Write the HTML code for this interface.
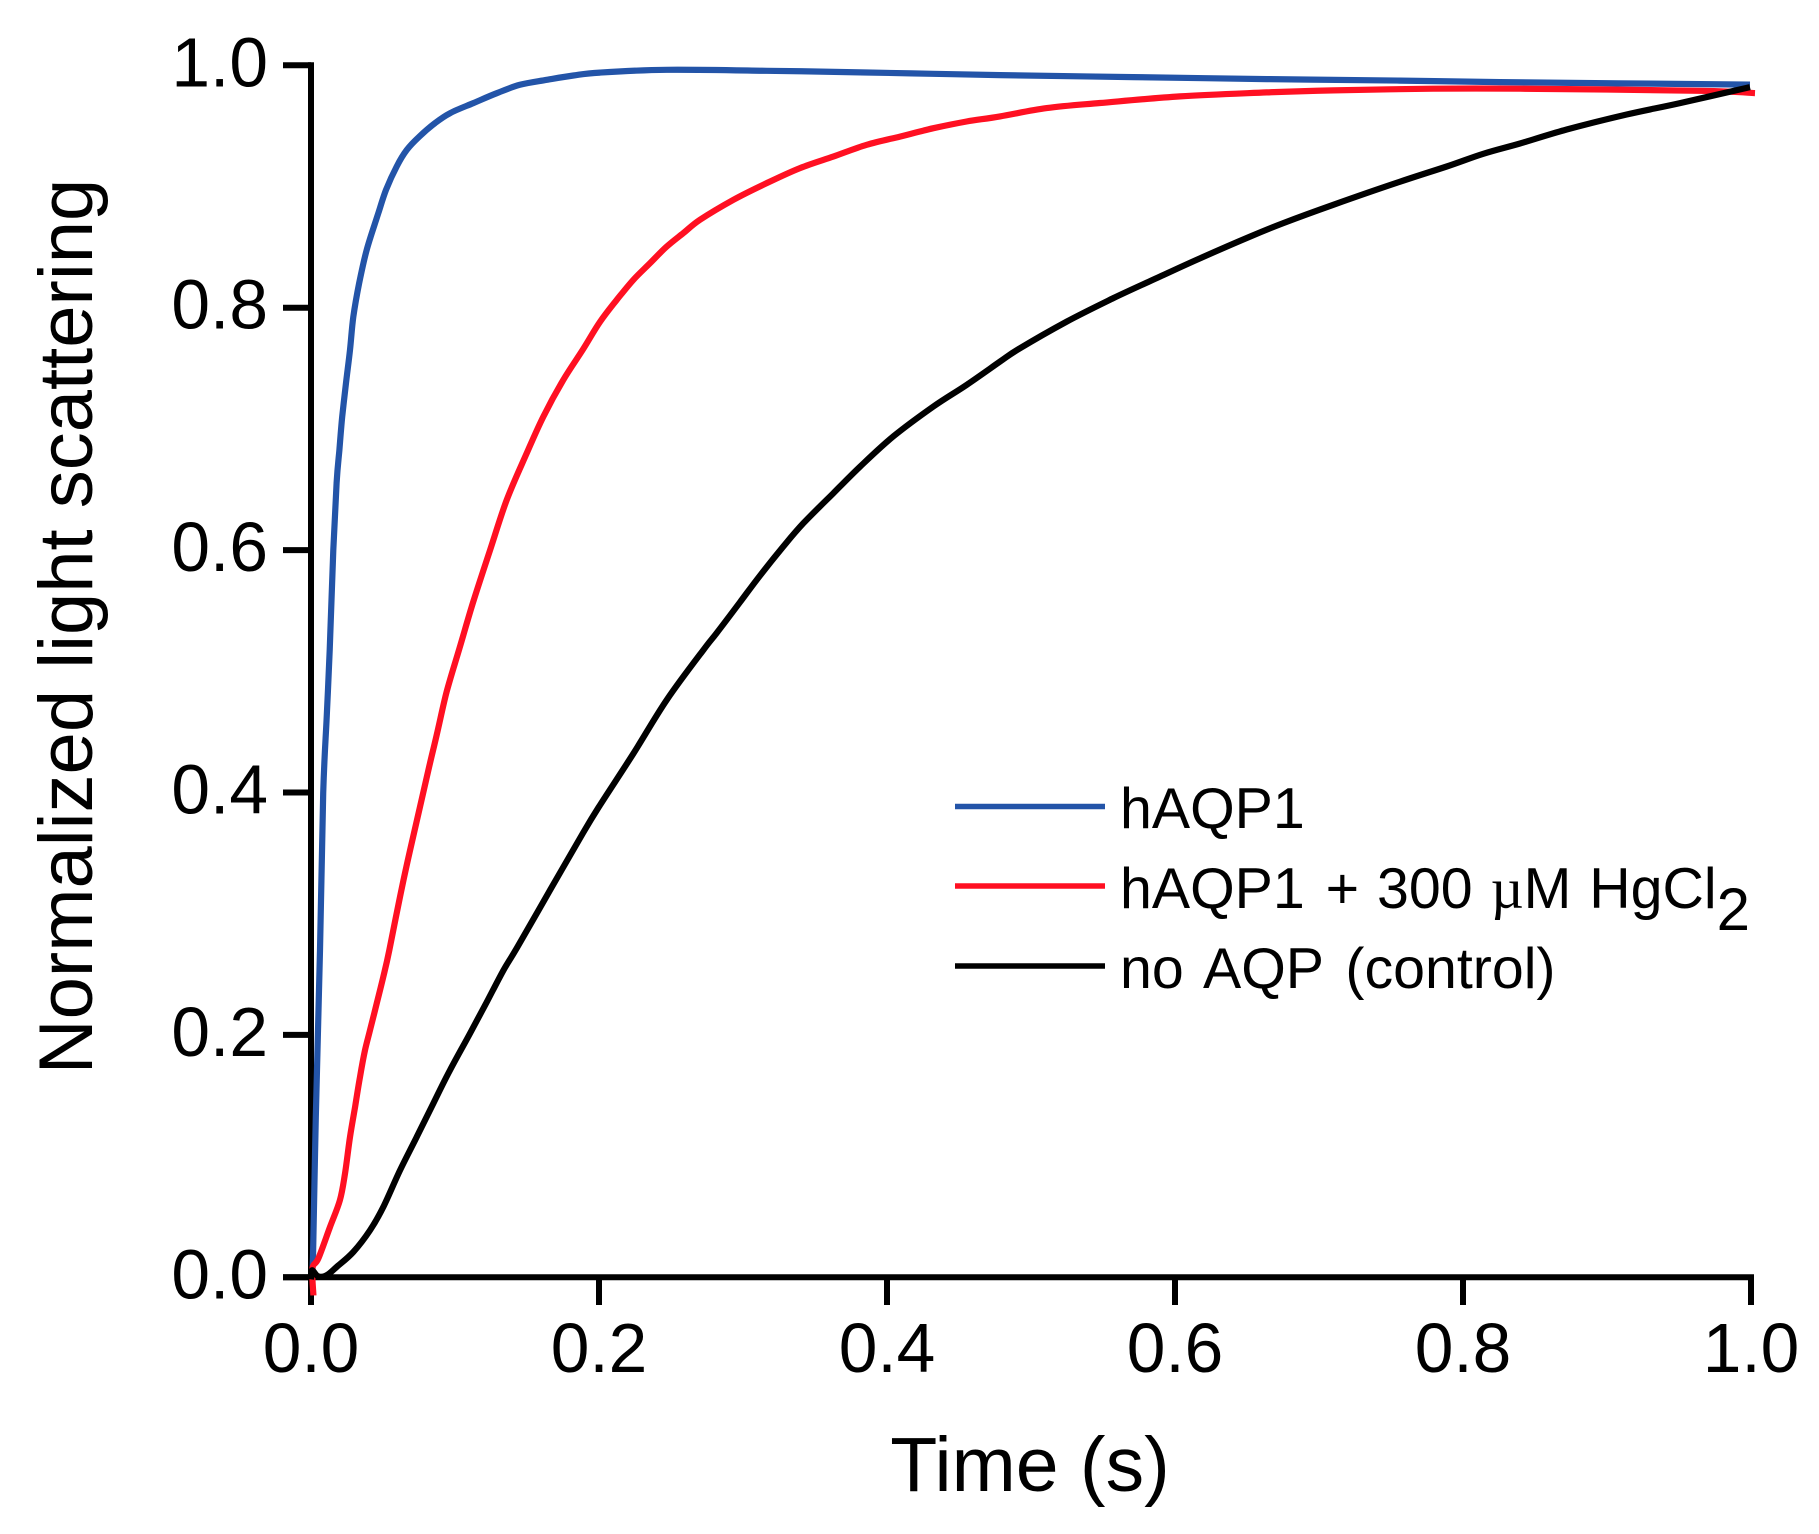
<!DOCTYPE html>
<html lang="en">
<head>
<meta charset="utf-8">
<title>Normalized light scattering over time</title>
<style>
  html, body { margin: 0; padding: 0; background: #ffffff; }
  svg { display: block; font-family: "Liberation Sans", Arial, sans-serif; fill: #000; }
</style>
</head>
<body>
<svg id="chart" width="1819" height="1534" viewBox="0 0 1819 1534" xmlns="http://www.w3.org/2000/svg">
  <rect x="0" y="0" width="1819" height="1534" fill="#ffffff"/>
  <g id="axes"></g>
  <g id="series"></g>
  <text x="1030" y="1491" font-size="77" text-anchor="middle">Time (s)</text>
  <text transform="translate(92 626.5) rotate(-90)" font-size="76" text-anchor="middle">Normalized light scattering</text>
  <g>
    <line x1="955" x2="1105" y1="806.5" y2="806.5" stroke="#2354a8" stroke-width="5.5"/>
    <text x="1120" y="828" font-size="57.3">hAQP1</text>
    <line x1="955" x2="1105" y1="886" y2="886" stroke="#ff1022" stroke-width="5.5"/>
    <text x="1120" y="908" font-size="57.3" word-spacing="2">hAQP1 <tspan dx="3">+</tspan> 300 <tspan font-family="'Liberation Serif', serif">µ</tspan>M HgCl<tspan dy="22" font-size="60">2</tspan></text>
    <line x1="955" x2="1105" y1="966" y2="966" stroke="#000000" stroke-width="5.5"/>
    <text x="1120" y="988" font-size="57.3" word-spacing="6.5">no AQP (control)</text>
  </g>
</svg>
<script>
const xTicks = [0, 0.2, 0.4, 0.6, 0.8, 1.0];
const yTicks = [0, 0.2, 0.4, 0.6, 0.8, 1.0];
const xTickLabels = ["0.0", "0.2", "0.4", "0.6", "0.8", "1.0"];
const yTickLabels = ["0.0", "0.2", "0.4", "0.6", "0.8", "1.0"];

const haqp1Time = [0,.0014,.0033,.00625,.0085,.0109,.0130,.0155,.0178,.0197,.0217,.0243,.0271,.0294,.0335,.0387,.0460,.0521,.0595,.0665,.0752,.0861,.0965,.1127,.1290,.1451,.1637,.1822,.2007,.2470,.3165,.3859,.4319,.4785,.5708,.6639,.7563,.8257,.9993];
const haqp1Signal = [0,.0165,.132,.270,.3995,.4622,.5175,.6001,.6554,.6826,.7101,.7379,.7652,.7924,.8205,.8477,.8752,.8972,.9165,.9302,.9412,.9523,.9605,.9688,.9770,.9839,.9880,.9916,.9940,.9963,.9955,.9941,.9930,.9919,.9903,.9886,.9874,.9861,.9841];

const hgTime = [.0017,.0010,.0051,.0132,.0201,.0236,.0271,.0306,.0340,.0375,.0410,.0456,.0502,.0544,.0618,.0688,.0757,.0815,.0873,.0942,.1035,.1127,.1243,.1359,.1498,.1613,.1752,.1891,.2007,.2123,.2238,.2354,.2470,.2585,.2701,.2933,.3165,.3396,.3627,.3859,.4090,.4322,.4553,.4785,.5109,.5479,.6035,.6637,.7099,.7792,.8396,.9646,1.0028];
const hgSignal = [-.0149,.0074,.0154,.0415,.0636,.0856,.1158,.1406,.1653,.1874,.2039,.2259,.2479,.2699,.3139,.3525,.3882,.4185,.4475,.4830,.5205,.5575,.5998,.6413,.6799,.7101,.7404,.7660,.7883,.8064,.8229,.8367,.8504,.8615,.8725,.8890,.9028,.9152,.9247,.9344,.9412,.9481,.9536,.9578,.9647,.9689,.9743,.9776,.9793,.9807,.9807,.9790,.9771];

const controlTime = [0,.0007,.0049,.0109,.0178,.0294,.0410,.0502,.0618,.0734,.0849,.0965,.1104,.1220,.1335,.1431,.1660,.1891,.2007,.2238,.2470,.2724,.2817,.2979,.3118,.3280,.3419,.3627,.3813,.4044,.4322,.4553,.4785,.4924,.5248,.5571,.5896,.6174,.6521,.6752,.7099,.7563,.7887,.8141,.8396,.8720,.9137,.9507,.9993];
const controlSignal = [-.0017,.0058,.0008,.0017,.0085,.0209,.0388,.0580,.0883,.1158,.1434,.1709,.2012,.2270,.2530,.2720,.3194,.3670,.3896,.4320,.4763,.5175,.5315,.5570,.5790,.6030,.6221,.6469,.6689,.6938,.7185,.7363,.7555,.7666,.7885,.8078,.8257,.8408,.8587,.8698,.8849,.9040,.9165,.9270,.9355,.9470,.9594,.9688,.9820];

const SVG_NS = "http://www.w3.org/2000/svg";
const xScale = t => 311 + 1440 * t;
const yScale = v => 1277.3 - 1212 * v;
const axesGroup = document.getElementById("axes");
const seriesGroup = document.getElementById("series");
const AXIS_WIDTH = 6;

function makeLine(x1, y1, x2, y2) {
  const el = document.createElementNS(SVG_NS, "line");
  el.setAttribute("x1", x1);
  el.setAttribute("y1", y1);
  el.setAttribute("x2", x2);
  el.setAttribute("y2", y2);
  el.setAttribute("stroke", "#000");
  el.setAttribute("stroke-width", AXIS_WIDTH);
  return el;
}
function makeLabel(x, y, str, anchor) {
  const el = document.createElementNS(SVG_NS, "text");
  el.setAttribute("x", x);
  el.setAttribute("y", y);
  el.setAttribute("font-size", "69.5");
  el.setAttribute("text-anchor", anchor);
  el.textContent = str;
  return el;
}

const yAxisLine = makeLine(xScale(0), yScale(1) - AXIS_WIDTH / 2, xScale(0), 1305);


axesGroup.appendChild(yAxisLine);

const xAxisLine = makeLine(283, yScale(0), xScale(1) + AXIS_WIDTH / 2, yScale(0));


axesGroup.appendChild(xAxisLine);

yTicks.forEach((v, i) => {
  const tick = makeLine(283, yScale(v), xScale(0), yScale(v));
  
  
  axesGroup.appendChild(tick);
  const label = makeLabel(268, yScale(v) + 21, yTickLabels[i], "end");
  
  
  axesGroup.appendChild(label);
});

xTicks.forEach((t, i) => {
  const tick = makeLine(xScale(t), yScale(0), xScale(t), 1305);
  
  
  axesGroup.appendChild(tick);
  const label = makeLabel(xScale(t), 1372, xTickLabels[i], "middle");
  
  
  axesGroup.appendChild(label);
});

function smoothPath(times, values) {
  const pts = times.map((t, i) => [xScale(t), yScale(values[i])]);
  let d = "M" + pts[0][0].toFixed(1) + " " + pts[0][1].toFixed(1);
  for (let i = 0; i < pts.length - 1; i++) {
    const p0 = pts[Math.max(i - 1, 0)];
    const p1 = pts[i];
    const p2 = pts[i + 1];
    const p3 = pts[Math.min(i + 2, pts.length - 1)];
    const c1x = p1[0] + (p2[0] - p0[0]) / 6;
    const c1y = p1[1] + (p2[1] - p0[1]) / 6;
    const c2x = p2[0] - (p3[0] - p1[0]) / 6;
    const c2y = p2[1] - (p3[1] - p1[1]) / 6;
    d += "C" + c1x.toFixed(1) + " " + c1y.toFixed(1) + " " + c2x.toFixed(1) + " " + c2y.toFixed(1) + " " + p2[0].toFixed(1) + " " + p2[1].toFixed(1);
  }
  return d;
}

function drawSeries(times, values, color) {
  const el = document.createElementNS(SVG_NS, "path");
  el.setAttribute("d", smoothPath(times, values));
  el.setAttribute("fill", "none");
  el.setAttribute("stroke", color);
  el.setAttribute("stroke-width", "6.2");
  el.setAttribute("stroke-linejoin", "round");
  el.setAttribute("stroke-linecap", "butt");
  seriesGroup.appendChild(el);
  return el;
}

const haqp1Line = drawSeries(haqp1Time, haqp1Signal, "#2354a8");



const hgLine = drawSeries(hgTime, hgSignal, "#ff1022");



const controlLine = drawSeries(controlTime, controlSignal, "#000000");


</script>
</body>
</html>
